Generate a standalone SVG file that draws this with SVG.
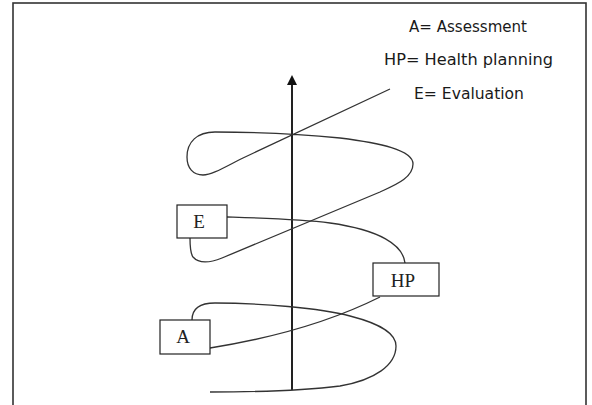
<svg xmlns="http://www.w3.org/2000/svg" width="592" height="405" viewBox="0 0 592 405">
<style>
.frame{fill:none;stroke:#333;stroke-width:1.6}
.box{fill:#fff;stroke:#222;stroke-width:1.2}
.lbl{font-family:"Liberation Serif","Times New Roman",serif;font-size:19px;fill:#222;text-anchor:middle}
.leg{font-family:"DejaVu Sans",sans-serif;font-size:15px;fill:#1a1a1a;text-anchor:middle}
.curve{fill:none;stroke:#333;stroke-width:1.3}
.axis{fill:none;stroke:#222;stroke-width:2}
</style>
<rect class="frame" x="13" y="3" width="573" height="412"/>
<g id="legend">
<text class="leg" x="468" y="32" textLength="118" lengthAdjust="spacingAndGlyphs">A= Assessment</text>
<text class="leg" x="468.5" y="65" textLength="169" lengthAdjust="spacingAndGlyphs">HP= Health planning</text>
<text class="leg" x="469" y="99" textLength="110" lengthAdjust="spacingAndGlyphs">E= Evaluation</text>
</g>
<g id="connectors">
<path class="axis" d="M292,390 L292,84"/>
<path d="M287,85 L292,75 L297,85 Z" fill="#111"/>
<path class="curve" d="M390,89 L243,158 C225,167 212,175 203,175 C193,175 187,168 187,157 C187,142 197,132 215,132 C250,132 300,134 340,138 C380,143 413,150 413,164 C413,178 395,185 380,192 L222,258 C212,262 200,265 193,257 C190,253 190,246 190,238"/>
<path class="curve" d="M227,217 C260,218 300,219 330,223 C380,230 403,245 405,263"/>
<path class="curve" d="M380,297 Q310,332 210,348"/>
<path class="curve" d="M192,320 C192,310 198,303 215,303 C260,303 320,308 350,316 C385,325 396,335 396,346 C396,365 375,380 340,386 C300,391 250,392 210,392"/>
</g>
<g id="node-E">
<rect class="box" x="177" y="205" width="50" height="33"/>
<text class="lbl" x="199" y="228">E</text>
</g>
<g id="node-HP">
<rect class="box" x="373" y="263" width="66" height="33"/>
<text class="lbl" x="403" y="287">HP</text>
</g>
<g id="node-A">
<rect class="box" x="160" y="320" width="50" height="34"/>
<text class="lbl" x="183" y="343">A</text>
</g>
</svg>
